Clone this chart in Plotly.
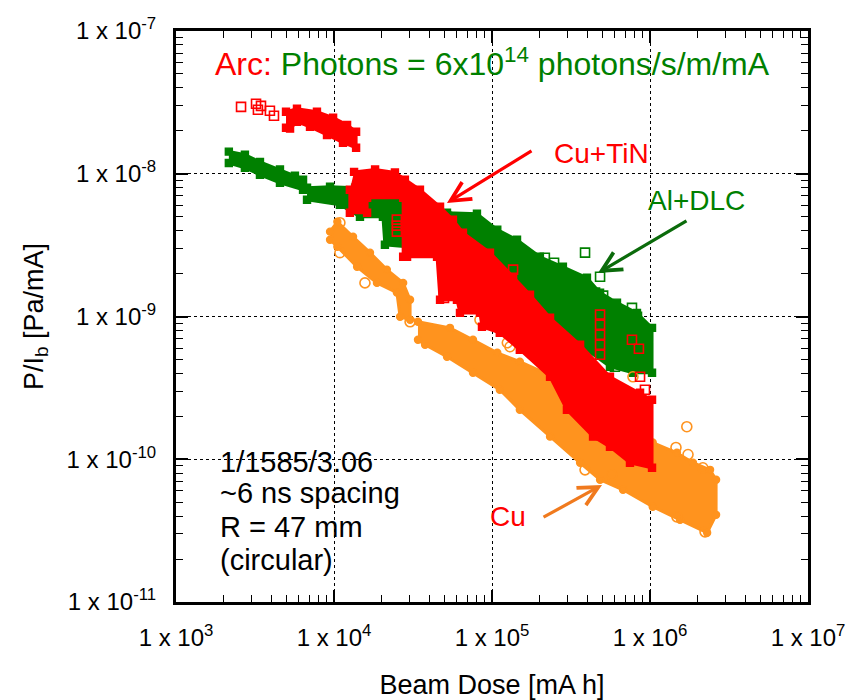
import plotly.graph_objects as go

# ---------------- data ----------------
# Cu+TiN (red, squares): isolated early points
red_iso_x = [2.58e3, 3.21e3, 3.45e3, 3.30e3, 3.93e3, 4.17e3]
red_iso_y = [2.94e-8, 3.09e-8, 2.99e-8, 2.81e-8, 2.76e-8, 2.55e-8]
# Cu+TiN: first dense cluster (outline of the point cloud)
red_c1_x = [4.97e3, 5.83e3, 7.80e3, 9.87e3, 1.21e4, 1.38e4, 1.38e4, 1.14e4, 9.03e3, 7.05e3, 5.83e3, 5.27e3, 4.97e3]
red_c1_y = [2.72e-8, 2.85e-8, 2.72e-8, 2.47e-8, 2.20e-8, 1.97e-8, 1.52e-8, 1.65e-8, 1.87e-8, 2.13e-8, 2.31e-8, 2.07e-8, 2.10e-8]
# Cu+TiN: main dense cloud (outline)
red_c2_x = [1.34e4, 1.82e4, 2.43e4, 2.81e4, 3.50e4, 4.69e4, 5.66e4, 6.55e4, 9.71e4, 1.36e5, 1.74e5, 2.33e5,
            3.61e5, 5.58e5, 8.65e5, 1.03e6, 1.03e6, 7.47e5, 5.58e5, 4.36e5, 2.98e5, 2.33e5, 1.50e5, 1.12e5,
            8.64e4, 8.39e4, 6.27e4, 6.00e4, 4.69e4, 4.49e4, 2.90e4, 2.74e4, 2.74e4, 1.62e4, 1.62e4, 1.26e4, 1.26e4]
red_c2_y = [1.03e-8, 1.07e-8, 1.02e-8, 9.08e-9, 7.73e-9, 5.87e-9, 4.77e-9, 3.86e-9, 2.80e-9, 1.90e-9, 1.42e-9, 9.8e-10,
            6.34e-10, 3.78e-10, 2.92e-10, 2.61e-10, 8.71e-11, 9.45e-11, 1.22e-10, 1.44e-10, 2.22e-10, 3.78e-10, 5.85e-10, 7.69e-10,
            8.47e-10, 1.06e-9, 1.06e-9, 1.31e-9, 1.31e-9, 2.62e-9, 2.62e-9, 2.62e-9, 6.79e-9, 6.79e-9, 5.33e-9, 5.33e-9, 7.73e-9]
# Cu+TiN: scattered open squares
red_pts_x = [2.50e4, 2.50e4, 2.50e4, 4.97e4, 4.97e4, 4.97e4, 4.97e4, 1.36e5, 4.83e5, 4.83e5, 4.83e5, 4.83e5, 4.83e5,
             7.69e5, 8.51e5, 8.65e5, 9.29e5]
red_pts_y = [4.77e-9, 4.33e-9, 3.93e-9, 2.13e-9, 1.81e-9, 1.54e-9, 1.35e-9, 2.13e-9, 1.03e-9, 8.75e-10, 7.45e-10, 6.34e-10, 5.40e-10,
             6.87e-10, 5.94e-10, 3.78e-10, 3.07e-10]

# Al+DLC (green, squares): first cluster outline
grn_c1_x = [2.16e3, 2.73e3, 3.40e3, 4.55e3, 5.66e3, 6.37e3, 6.37e3, 4.55e3, 3.40e3, 2.73e3, 2.16e3]
grn_c1_y = [1.43e-8, 1.36e-8, 1.21e-8, 1.07e-8, 9.68e-9, 9.08e-9, 7.73e-9, 8.65e-9, 9.84e-9, 1.10e-8, 1.19e-8]
# Al+DLC: main cloud outline
grn_c2_x = [6.75e3, 9.44e3, 1.36e4, 1.95e4, 2.90e4, 5.19e4, 8.03e4, 1.08e5, 1.44e5, 2.01e5, 2.81e5, 3.99e5,
            4.83e5, 6.18e5, 8.27e5, 1.03e6, 1.03e6, 7.80e5, 5.58e5, 3.45e5, 2.33e5, 1.74e5, 1.12e5, 7.26e4,
            5.05e4, 3.77e4, 2.90e4, 2.10e4, 2.04e4, 1.46e4, 1.09e4, 6.75e3]
grn_c2_y = [7.98e-9, 8.11e-9, 7.98e-9, 7.73e-9, 6.07e-9, 5.33e-9, 5.25e-9, 4.06e-9, 3.45e-9, 2.62e-9, 2.23e-9, 1.87e-9,
            1.47e-9, 1.25e-9, 1.06e-9, 8.33e-10, 4.04e-10, 4.04e-10, 4.45e-10, 6.55e-10, 9.95e-10, 1.11e-9, 1.31e-9, 1.81e-9,
            2.42e-9, 2.94e-9, 3.08e-9, 3.18e-9, 5.00e-9, 5.00e-9, 6.07e-9, 6.58e-9]
# Al+DLC: scattered open squares
grn_pts_x = [5.19e4, 1.82e5, 2.16e5, 2.47e5, 3.88e5, 4.49e5, 4.83e5, 5.05e5, 6.00e5, 7.69e5, 8.27e5]
grn_pts_y = [5.00e-9, 1.15e-9, 2.58e-9, 2.38e-9, 2.80e-9, 1.47e-9, 1.90e-9, 1.40e-9, 4.45e-10, 1.15e-9, 9.95e-10]

# Cu (orange, circles): first cloud outline
org_c1_x = [9.44e3, 1.05e4, 1.32e4, 1.69e4, 2.16e4, 2.74e4, 3.03e4, 3.03e4, 2.62e4, 2.50e4, 1.87e4, 1.40e4, 1.05e4, 9.44e3]
org_c1_y = [3.93e-9, 4.61e-9, 3.62e-9, 2.80e-9, 2.13e-9, 1.72e-9, 1.31e-9, 9.48e-10, 9.95e-10, 1.47e-9, 1.72e-9, 2.23e-9, 3.08e-9, 3.45e-9]
# Cu: main cloud outline
org_c2_x = [3.40e4, 5.42e4, 7.58e4, 1.08e5, 1.50e5, 2.69e5, 4.83e5, 8.65e5, 1.04e6, 1.48e6, 1.87e6, 2.40e6,
            2.62e6, 2.62e6, 2.30e6, 1.55e6, 1.04e6, 6.75e5, 4.83e5, 3.61e5, 2.33e5, 1.50e5, 1.12e5, 7.58e4,
            5.19e4, 3.77e4, 3.40e4]
org_c2_y = [9.18e-10, 8.33e-10, 6.87e-10, 5.57e-10, 4.82e-10, 3.60e-10, 2.22e-10, 1.49e-10, 1.31e-10, 1.11e-10, 9.45e-11, 8.43e-11,
            7.18e-11, 4.08e-11, 3.05e-11, 3.76e-11, 4.65e-11, 6.11e-11, 7.18e-11, 9.45e-11, 1.44e-10, 2.22e-10, 3.07e-10, 4.04e-10,
            5.22e-10, 6.34e-10, 6.87e-10]
# Cu: scattered open circles
org_pts_x = [1.09e4, 1.09e4, 1.57e4, 3.03e4, 8.39e4, 1.25e5, 1.30e5, 3.88e5, 5.74e5, 7.80e5, 1.71e6, 1.46e6, 1.74e6, 2.16e6, 2.23e6, 1.48e6]
org_pts_y = [4.54e-9, 2.80e-9, 1.72e-9, 9.18e-10, 9.48e-10, 6.55e-10, 6.14e-10, 8.43e-11, 7.78e-11, 3.78e-10, 1.69e-10, 1.21e-10, 1.08e-10, 8.71e-11, 3.10e-11, 3.95e-11]

# axis ticks
x_tickvals = [1e3, 1e4, 1e5, 1e6, 1e7]
x_ticktext = ["1 x 10<sup>3</sup>", "1 x 10<sup>4</sup>", "1 x 10<sup>5</sup>", "1 x 10<sup>6</sup>", "1 x 10<sup>7</sup>"]
y_tickvals = [1e-11, 1e-10, 1e-9, 1e-8, 1e-7]
y_ticktext = ["1 x 10<sup>-11</sup>", "1 x 10<sup>-10</sup>", "1 x 10<sup>-9</sup>", "1 x 10<sup>-8</sup>", "1 x 10<sup>-7</sup>"]
x_minor = [m * d for d in [1e3, 1e4, 1e5, 1e6] for m in range(2, 10)]
y_minor = [m * d for d in [1e-11, 1e-10, 1e-9, 1e-8] for m in range(2, 10)]

RED = "#FF0000"
GREEN = "#008000"
ORANGE = "#FF931E"
FONT = "Liberation Sans, Arial, sans-serif"

fig = go.Figure()


def cloud(x, y, color, symbol):
    fig.add_trace(go.Scatter(x=x, y=y, mode="lines+markers", fill="toself", fillcolor=color,
                             line=dict(color=color, width=3),
                             marker=dict(symbol=symbol, size=7, color=color, line=dict(color=color, width=1.4)),
                             hoverinfo="skip", showlegend=False))


def pts(x, y, color, symbol, size):
    fig.add_trace(go.Scatter(x=x, y=y, mode="markers", showlegend=False,
                             marker=dict(symbol=symbol, size=size, color=color, line=dict(color=color, width=1.6))))


# green first, then orange, red on top
cloud(grn_c1_x, grn_c1_y, GREEN, "square")
cloud(grn_c2_x, grn_c2_y, GREEN, "square")
pts(grn_pts_x, grn_pts_y, GREEN, "square-open", 9)
cloud(org_c1_x, org_c1_y, ORANGE, "circle")
cloud(org_c2_x, org_c2_y, ORANGE, "circle")
pts(org_pts_x, org_pts_y, ORANGE, "circle-open", 10)
cloud(red_c1_x, red_c1_y, RED, "square")
cloud(red_c2_x, red_c2_y, RED, "square")
pts(red_iso_x, red_iso_y, RED, "square-open", 9)
pts(red_pts_x, red_pts_y, RED, "square-open", 9)

axis_common = dict(
    type="log", showline=True, linewidth=3, linecolor="black", mirror="allticks",
    ticks="inside", ticklen=12, tickwidth=1.5, tickcolor="black",
    showgrid=True, gridcolor="black", gridwidth=1.2, griddash="dot",
    zeroline=False, automargin=False, tickfont=dict(family=FONT, size=24, color="black"),
)

fig.update_xaxes(**axis_common, range=[3, 7], tickmode="array", tickvals=x_tickvals, ticktext=x_ticktext,
                 ticklabelstandoff=12,
                 minor=dict(tickmode="array", tickvals=x_minor, ticks="inside", ticklen=7, tickwidth=1.3,
                            tickcolor="black", showgrid=False),
                 title=dict(text="Beam Dose [mA h]", font=dict(family=FONT, size=27, color="black"), standoff=28))
fig.update_yaxes(**axis_common, range=[-11, -7], tickmode="array", tickvals=y_tickvals, ticktext=y_ticktext,
                 ticklabelstandoff=12,
                 minor=dict(tickmode="array", tickvals=y_minor, ticks="inside", ticklen=7, tickwidth=1.3,
                            tickcolor="black", showgrid=False),
                 title=dict(text="P/I<sub>b</sub> [Pa/mA]", font=dict(family=FONT, size=27, color="black"), standoff=16))

# white boxes behind labels (hide gridlines)
for x0, x1, y0, y1 in [(0.036, 0.434, 0.021, 0.298), (0.734, 0.908, 0.660, 0.739), (0.489, 0.560, 0.117, 0.243)]:
    fig.add_shape(type="rect", xref="paper", yref="paper", x0=x0, x1=x1, y0=y0, y1=y1,
                  fillcolor="white", line=dict(width=0), layer="between")

ann = []
ann.append(dict(text="<span style='color:#FF0000'>Arc:</span> Photons = 6x10<sup>14</sup> photons/s/m/mA",
                x=0.0585, y=0.9457, xanchor="left", yanchor="middle",
                font=dict(family=FONT, size=32, color=GREEN)))
for txt, yy in [("1/1585/3.06", 0.2452), ("~6 ns spacing", 0.1909), ("R = 47 mm", 0.1313), ("(circular)", 0.0736)]:
    ann.append(dict(text=txt, x=0.0665, y=yy, xanchor="left", yanchor="middle",
                    font=dict(family=FONT, size=29, color="black")))
ann.append(dict(text="Cu+TiN", x=0.674, y=0.7846, font=dict(family=FONT, size=28, color=RED)))
ann.append(dict(text="Al+DLC", x=0.8228, y=0.7023, font=dict(family=FONT, size=28, color=GREEN)))
ann.append(dict(text="Cu", x=0.5253, y=0.1489, font=dict(family=FONT, size=28, color=RED)))
# arrows
for xx, yy, axp, ayp, col in [(0.4288, 0.6988, 86, -53, RED), (0.6677, 0.5762, 90, -53, "#0B6B0B"),
                              (0.6741, 0.2049, -60, 33, "#F07A1E")]:
    ann.append(dict(text="", x=xx, y=yy, ax=axp, ay=ayp, showarrow=True, arrowhead=5, arrowsize=1.2,
                    arrowwidth=3.2, arrowcolor=col, standoff=0))
for a in ann:
    a.setdefault("xref", "paper")
    a.setdefault("yref", "paper")
    a.setdefault("showarrow", False)
    a.setdefault("xanchor", "center")
    a.setdefault("yanchor", "middle")
    fig.add_annotation(**a)

# the page body adds an 8 px margin, so the figure is 8 px smaller and margins shifted
fig.update_layout(width=850, height=692, margin=dict(l=168, r=50, t=23, b=98),
                  plot_bgcolor="white", paper_bgcolor="white", showlegend=False,
                  font=dict(family=FONT, color="black"))

fig.write_html("out.html")
